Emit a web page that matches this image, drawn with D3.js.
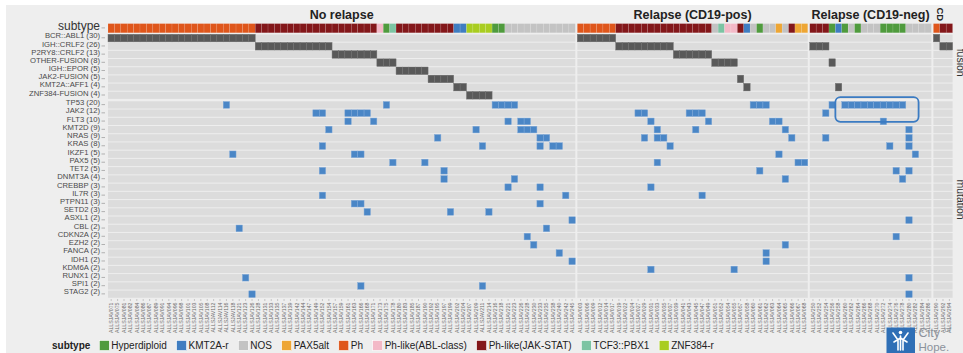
<!DOCTYPE html>
<html>
<head>
<meta charset="utf-8">
<script src="https://cdn.jsdelivr.net/npm/d3@7"></script>
<style>
  html, body { margin: 0; padding: 0; background: #ffffff; }
  svg { display: block; font-family: "Liberation Sans", Arial, Helvetica, sans-serif; }
</style>
</head>
<body>
<svg id="chart" width="963" height="353"></svg>
<script>
// ---------- data ----------
const panelNames = ["No relapse", "Relapse (CD19-pos)", "Relapse (CD19-neg)", "CD"];

const samplesNoRelapse = [
  "ALLSJAV071","ALLSJAV075","ALLSJAV081","ALLSJAV082","ALLSJAV084","ALLSJAV086","ALLSJAV087","ALLSJAV089","ALLSJAV091","ALLSJAV094",
  "ALLSJAV096","ALLSJAV098","ALLSJAV101","ALLSJAV103","ALLSJAV105","ALLSJAV108","ALLSJAV112","ALLSJAV114","ALLSJAV116","ALLSJAV118",
  "ALLSJAV121","ALLSJAV123","ALLSJAV126","ALLSJAV128","ALLSJAV131","ALLSJAV133","ALLSJAV135","ALLSJAV137","ALLSJAV139","ALLSJAV142",
  "ALLSJAV144","ALLSJAV147","ALLSJAV149","ALLSJAV152","ALLSJAV154","ALLSJAV157","ALLSJAV159","ALLSJAV161","ALLSJAV163","ALLSJAV166",
  "ALLSJAV168","ALLSJAV171","ALLSJAV173","ALLSJAV175","ALLSJAV178","ALLSJAV180","ALLSJAV183","ALLSJAV185","ALLSJAV187","ALLSJAV190",
  "ALLSJAV192","ALLSJAV195","ALLSJAV197","ALLSJAV199","ALLSJAV202","ALLSJAV204","ALLSJAV207","ALLSJAV209","ALLSJAV211","ALLSJAV214",
  "ALLSJAV216","ALLSJAV218","ALLSJAV221","ALLSJAV223","ALLSJAV226","ALLSJAV228","ALLSJAV230","ALLSJAV233","ALLSJAV235","ALLSJAV238",
  "ALLSJAV240","ALLSJAV242","ALLSJAV245"
];
const samplesCD19Pos = [
  "ALLSJAV003","ALLSJAV006","ALLSJAV009","ALLSJAV012","ALLSJAV014","ALLSJAV017","ALLSJAV019","ALLSJAV022","ALLSJAV024","ALLSJAV027",
  "ALLSJAV029","ALLSJAV031","ALLSJAV033","ALLSJAV035","ALLSJAV037","ALLSJAV039","ALLSJAV041","ALLSJAV043","ALLSJAV045","ALLSJAV047",
  "ALLSJAV049","ALLSJAV051","ALLSJAV052","ALLSJAV054","ALLSJAV055","ALLSJAV057","ALLSJAV058","ALLSJAV060","ALLSJAV061","ALLSJAV062",
  "ALLSJAV063","ALLSJAV064","ALLSJAV065","ALLSJAV066","ALLSJAV067","ALLSJAV068"
];
const samplesCD19Neg = [
  "ALLSJAV250","ALLSJAV252","ALLSJAV254","ALLSJAV256","ALLSJAV258","ALLSJAV260","ALLSJAV262","ALLSJAV264","ALLSJAV266","ALLSJAV268",
  "ALLSJAV270","ALLSJAV272","ALLSJAV274","ALLSJAV276","ALLSJAV278","ALLSJAV280","ALLSJAV282","ALLSJAV284","ALLSJAV286"
];
const samplesCD = ["ALLSJAV290","ALLSJAV292","ALLSJAV294"];

// subtype of each sample, as consecutive runs [subtype, number of samples]
const subtypeNoRelapse = [["Ph",23],["Ph-like(JAK-STAT)",19],["Ph-like(ABL-class)",1],["Hyperdiploid",1],["TCF3::PBX1",1],
  ["Ph-like(JAK-STAT)",9],["KMT2A-r",2],["ZNF384-r",4],["Hyperdiploid",2],["NOS",11]];
const subtypeCD19Pos = [["Ph",6],["Ph-like(JAK-STAT)",15],["NOS",1],["TCF3::PBX1",1],["Ph-like(ABL-class)",2],
  ["Ph-like(JAK-STAT)",1],["KMT2A-r",1],["NOS",1],["Hyperdiploid",1],["NOS",2],["PAX5alt",1],["NOS",1],
  ["Ph-like(JAK-STAT)",1],["PAX5alt",2]];
const subtypeCD19Neg = [["Ph-like(JAK-STAT)",3],["Hyperdiploid",1],["KMT2A-r",1],["Hyperdiploid",1],["NOS",1],
  ["Hyperdiploid",1],["NOS",3],["Hyperdiploid",4],["NOS",4]];
const subtypeCD = [["Ph",1],["Ph-like(JAK-STAT)",2]];

const subtypeLevels = ["Hyperdiploid","KMT2A-r","NOS","PAX5alt","Ph","Ph-like(ABL-class)","Ph-like(JAK-STAT)","TCF3::PBX1","ZNF384-r"];
const subtypeColours = ["#4f9b3d","#3f7dc1","#c3c3c3","#eea634","#df561b","#f3b9c7","#83171a","#7cc4a3","#a9cd20"];

const fusionGenes  = ["BCR::ABL1","IGH::CRLF2","P2RY8::CRLF2","OTHER-FUSION","IGH::EPOR","JAK2-FUSION","KMT2A::AFF1","ZNF384-FUSION"];
const fusionCounts = [30, 26, 13, 8, 5, 5, 4, 4];

const mutationGenes  = ["TP53","JAK2","FLT3","KMT2D","NRAS","KRAS","IKZF1","PAX5","TET2","DNMT3A","CREBBP","IL7R",
  "PTPN11","SETD2","ASXL1","CBL","CDKN2A","EZH2","FANCA","IDH1","KDM6A","RUNX1","SPI1","STAG2"];
const mutationCounts = [20, 12, 10, 9, 9, 8, 5, 5, 5, 4, 3, 3, 3, 3, 2, 2, 2, 2, 2, 2, 2, 2, 2, 2];

// fusion calls: [gene, panel, first sample index, last sample index]
const fusionCalls = [
  ["BCR::ABL1",0,0,22],["BCR::ABL1",1,0,5],["BCR::ABL1",3,0,0],
  ["IGH::CRLF2",0,23,34],["IGH::CRLF2",1,6,14],["IGH::CRLF2",2,0,2],["IGH::CRLF2",3,1,2],
  ["P2RY8::CRLF2",0,35,41],["P2RY8::CRLF2",1,15,20],
  ["OTHER-FUSION",0,42,44],["OTHER-FUSION",1,21,24],["OTHER-FUSION",2,3,3],
  ["IGH::EPOR",0,45,49],
  ["JAK2-FUSION",0,50,53],["JAK2-FUSION",1,25,25],
  ["KMT2A::AFF1",0,54,55],["KMT2A::AFF1",1,26,26],["KMT2A::AFF1",2,4,4],
  ["ZNF384-FUSION",0,56,59]
];

// mutation calls: [gene, panel, sample indices]
const mutationCalls = [
  ["TP53",0,[18,43,60,61,62,63]],["TP53",1,[27,28,29]],["TP53",2,[3,5,6,7,8,9,10,11,12,13,14]],
  ["JAK2",0,[32,33,37,38,39,40]],["JAK2",1,[9,10,17,18,19]],["JAK2",2,[2]],
  ["FLT3",0,[37,41,62,64,65]],["FLT3",1,[11,20,30,31]],["FLT3",2,[11]],
  ["KMT2D",0,[34,57,64,65,66]],["KMT2D",1,[12,18,32]],["KMT2D",2,[15]],
  ["NRAS",0,[51,67,68]],["NRAS",1,[10,12,13,33]],["NRAS",2,[2,15]],
  ["KRAS",0,[33,58,67,69,70]],["KRAS",1,[14]],["KRAS",2,[12,15]],
  ["IKZF1",0,[19,38,39]],["IKZF1",1,[31]],["IKZF1",2,[16]],
  ["PAX5",0,[44,49]],["PAX5",1,[12,34,35]],
  ["TET2",0,[33,52]],["TET2",1,[28]],["TET2",2,[13,15]],
  ["DNMT3A",0,[52,63]],["DNMT3A",1,[32]],["DNMT3A",2,[14]],
  ["CREBBP",0,[62,67]],["CREBBP",1,[11]],
  ["IL7R",0,[33,71]],["IL7R",1,[19]],
  ["PTPN11",0,[38,39,67]],
  ["SETD2",0,[40,53,59]],
  ["ASXL1",0,[72]],["ASXL1",2,[15]],
  ["CBL",0,[20,68]],
  ["CDKN2A",0,[65]],["CDKN2A",2,[13]],
  ["EZH2",0,[66]],["EZH2",1,[32]],
  ["FANCA",0,[70]],["FANCA",1,[29]],
  ["IDH1",0,[72]],["IDH1",1,[29]],
  ["KDM6A",1,[11,24]],
  ["RUNX1",0,[21]],["RUNX1",2,[15]],
  ["SPI1",0,[39,58]],
  ["STAG2",0,[22]],["STAG2",2,[15]]
];

// highlighted block: [panel, first sample, last sample, first gene, last gene]
const highlight = [2, 4, 16, "TP53", "JAK2"];

// ---------- layout ----------
const svg = d3.select("#chart");
const W = 963, H = 353;
const left = 108, right = 952.6, panelGap = 2;

svg.append("rect").attr("x", 6).attr("y", 5).attr("width", W - 6).attr("height", H - 5).attr("fill", "#eeeeee");

const panelSamples = [samplesNoRelapse, samplesCD19Pos, samplesCD19Neg, samplesCD];
const panelSubtypes = [subtypeNoRelapse, subtypeCD19Pos, subtypeCD19Neg, subtypeCD];
const nTotal = d3.sum(panelSamples, s => s.length);
const colStep = (right - left - panelGap * (panelSamples.length - 1)) / nTotal;

let cursor = left;
const xPanels = panelSamples.map(s => {
  const sc = d3.scaleBand().domain(s).range([cursor, cursor + s.length * colStep]).padding(0);
  cursor += s.length * colStep + panelGap;
  return sc;
});

const colour = d3.scaleOrdinal().domain(subtypeLevels).range(subtypeColours);
const ySub = d3.scaleBand().domain(["subtype"]).range([23.6, 32.8]);
const yFus = d3.scaleBand().domain(fusionGenes).range([34.0, 99.4]);
const yMut = d3.scaleBand().domain(mutationGenes).range([100.8, 298.3]);

// ---------- panel titles ----------
panelNames.forEach((name, i) => {
  const [a, b] = xPanels[i].range();
  if (i < 3) {
    svg.append("text").attr("x", (a + b) / 2).attr("y", 18.5).attr("text-anchor", "middle")
      .attr("font-size", 12.5).attr("font-weight", "bold").attr("fill", "#222").text(name);
  } else {
    svg.append("text").attr("transform", `translate(${(a + b) / 2 - 2.5},14.3) rotate(90)`)
      .attr("text-anchor", "middle").attr("dominant-baseline", "central")
      .attr("font-size", 9.5).attr("font-weight", "bold").attr("fill", "#222").text(name);
  }
});

// right-hand strip labels
svg.append("text").attr("transform", `translate(956.5,${(yFus.range()[0] + yFus.range()[1]) / 2 - 4}) rotate(90)`)
  .attr("text-anchor", "middle").attr("font-size", 10.5).attr("fill", "#333").text("fusion");
svg.append("text").attr("transform", `translate(956.5,${(yMut.range()[0] + yMut.range()[1]) / 2}) rotate(90)`)
  .attr("text-anchor", "middle").attr("font-size", 10.5).attr("fill", "#333").text("mutation");

// ---------- row backgrounds ----------
const bg = svg.append("g");
xPanels.forEach(xs => {
  const [a, b] = xs.range();
  fusionGenes.forEach(g => {
    bg.append("rect").attr("x", a).attr("width", b - a)
      .attr("y", yFus(g) + 0.5).attr("height", yFus.bandwidth() - 1).attr("fill", "#dcdcdc");
  });
  mutationGenes.forEach(g => {
    bg.append("rect").attr("x", a).attr("width", b - a)
      .attr("y", yMut(g) + 0.5).attr("height", yMut.bandwidth() - 1).attr("fill", "#dcdcdc");
  });
});

// ---------- subtype bar ----------
const subG = svg.append("g");
panelSubtypes.forEach((runs, p) => {
  const samples = panelSamples[p];
  let k = 0;
  runs.forEach(([type, n]) => {
    for (let j = 0; j < n; j++, k++) {
      subG.append("rect")
        .attr("x", xPanels[p](samples[k])).attr("width", xPanels[p].bandwidth())
        .attr("y", ySub("subtype")).attr("height", ySub.bandwidth())
        .attr("fill", colour(type)).attr("stroke", "rgba(255,255,255,0.22)").attr("stroke-width", 0.5);
    }
  });
});

// ---------- fusion tiles ----------
const fusG = svg.append("g");
fusionCalls.forEach(([gene, p, s0, s1]) => {
  const samples = panelSamples[p];
  for (let k = s0; k <= s1; k++) {
    fusG.append("rect")
      .attr("x", xPanels[p](samples[k])).attr("width", xPanels[p].bandwidth())
      .attr("y", yFus(gene) + 0.3).attr("height", yFus.bandwidth() - 0.6)
      .attr("fill", "#595959").attr("stroke", "#727272").attr("stroke-width", 0.45);
  }
});

// ---------- mutation tiles ----------
const mutG = svg.append("g");
mutationCalls.forEach(([gene, p, idx]) => {
  const samples = panelSamples[p];
  idx.forEach(k => {
    mutG.append("rect")
      .attr("x", xPanels[p](samples[k])).attr("width", xPanels[p].bandwidth())
      .attr("y", yMut(gene) + 0.8).attr("height", yMut.bandwidth() - 1.6)
      .attr("fill", "#4a86c6").attr("stroke", "#7fa9d9").attr("stroke-width", 0.45);
  });
});

// ---------- row labels ----------
const lab = svg.append("g").attr("font-size", 7.7).attr("fill", "#4a4a4a");
function rowLabel(y, text, size, colourText) {
  lab.append("text").attr("x", 100).attr("y", y - 2.2).attr("text-anchor", "end")
    .attr("dominant-baseline", "central").attr("font-size", size).attr("fill", colourText).text(text);
  lab.append("line").attr("x1", 101.5).attr("x2", 105).attr("y1", y - 0.3).attr("y2", y - 0.3)
    .attr("stroke", "#888").attr("stroke-width", 0.6);
}
rowLabel(ySub("subtype") + ySub.bandwidth() / 2, "subtype", 12, "#333");
fusionGenes.forEach((g, i) => rowLabel(yFus(g) + yFus.bandwidth() / 2, `${g} (${fusionCounts[i]})`, 7.7, "#4a4a4a"));
mutationGenes.forEach((g, i) => rowLabel(yMut(g) + yMut.bandwidth() / 2, `${g} (${mutationCounts[i]})`, 7.7, "#4a4a4a"));

// ---------- sample axis ----------
const axG = svg.append("g");
panelSamples.forEach((samples, p) => {
  const xs = xPanels[p];
  samples.forEach(s => {
    const cx = xs(s) + xs.bandwidth() / 2;
    axG.append("line").attr("x1", cx).attr("x2", cx).attr("y1", 299).attr("y2", 301)
      .attr("stroke", "#9a9a9a").attr("stroke-width", 0.5);
    axG.append("text").attr("transform", `translate(${cx + 1.8},302.5) rotate(-90)`)
      .attr("text-anchor", "end").attr("font-size", 5.2).attr("fill", "#6a6a6a").text(s);
  });
});

// ---------- highlight box ----------
{
  const [p, s0, s1, g0, g1] = highlight;
  const xs = xPanels[p], samples = panelSamples[p];
  const x0 = xs(samples[s0]), x1 = xs(samples[s1]) + xs.bandwidth();
  const y0 = yMut(g0) - 3.6, y1 = yMut(g1) + yMut.bandwidth() + 4.6;
  svg.append("rect").attr("x", x0).attr("y", y0).attr("width", x1 - x0).attr("height", y1 - y0)
    .attr("rx", 5).attr("ry", 5).attr("fill", "none")
    .attr("stroke", "#3b7bc2").attr("stroke-width", 1.8);
}

// ---------- legend ----------
const leg = svg.append("g");
leg.append("text").attr("x", 52).attr("y", 349.3).attr("font-size", 10).attr("font-weight", "bold")
  .attr("fill", "#222").text("subtype");
let lx = 99.3;
subtypeLevels.forEach(t => {
  leg.append("rect").attr("x", lx).attr("y", 340.5).attr("width", 10).attr("height", 10)
    .attr("fill", colour(t)).attr("stroke", "#ffffff").attr("stroke-width", 0.6);
  const tx = leg.append("text").attr("x", lx + 12).attr("y", 349.3).attr("font-size", 10)
    .attr("fill", "#222").text(t);
  lx += 12 + tx.node().getComputedTextLength() + 9.7;
});

// ---------- logo ----------
const logo = svg.append("g");
logo.append("rect").attr("x", 886.5).attr("y", 327.5).attr("width", 28.5).attr("height", 26).attr("fill", "#2f6fb6");
const fig = logo.append("g").attr("stroke", "#ffffff").attr("stroke-width", 1.6).attr("fill", "none").attr("stroke-linecap", "round");
fig.append("path").attr("d", "M893,333 L898,340 L898,350 M908,333 L903,340 L903,350 M894,342 L900.5,338 L907,342 M900.5,336 L900.5,350");
logo.append("circle").attr("cx", 900.5).attr("cy", 332.5).attr("r", 1.8).attr("fill", "#ffffff");
logo.append("text").attr("x", 918.5).attr("y", 337).attr("font-size", 12.5).attr("fill", "#8c929c").text("City");
logo.append("text").attr("x", 944.5).attr("y", 331.5).attr("font-size", 7.5).attr("fill", "#8c929c").text("of");
logo.append("text").attr("x", 918.5).attr("y", 350.5).attr("font-size", 11.5).attr("fill", "#8c929c").text("Hope.");
</script>
</body>
</html>
